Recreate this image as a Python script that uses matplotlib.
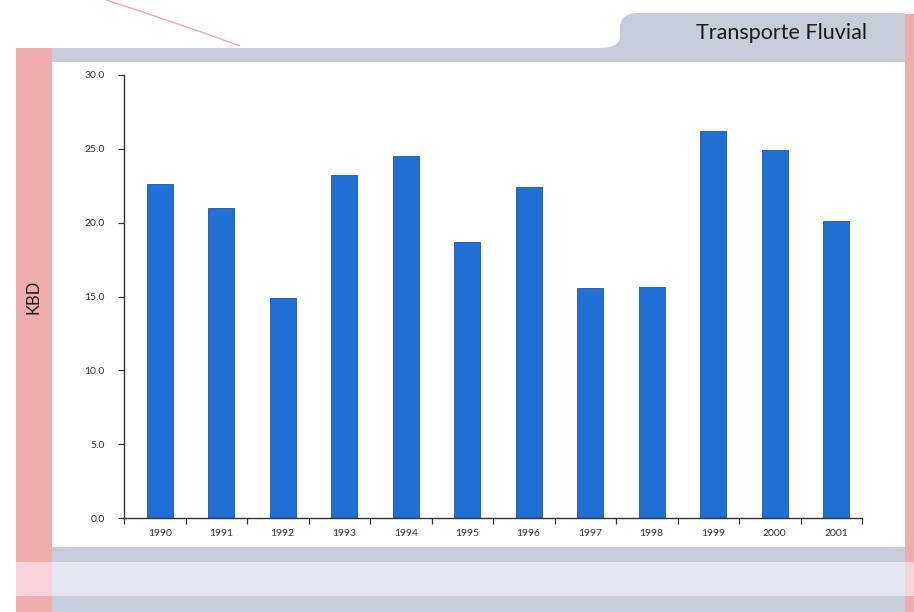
import matplotlib
matplotlib.use("Agg")
import matplotlib.pyplot as plt
from matplotlib.patches import Rectangle, PathPatch
from matplotlib.path import Path
from matplotlib.ticker import FormatStrFormatter, FixedLocator
import numpy as np

years = ["1990", "1991", "1992", "1993", "1994", "1995",
         "1996", "1997", "1998", "1999", "2000", "2001"]
kbd = [22.6, 21.0, 14.9, 23.2, 24.5, 18.7, 22.4, 15.6, 15.65, 26.2, 24.9, 20.1]
yticks = [0.0, 5.0, 10.0, 15.0, 20.0, 25.0, 30.0]
title = "Transporte Fluvial"
ylabel = "KBD"

W, H = 914, 612
plt.rcParams['font.family'] = ['Lato', 'DejaVu Sans']
fig = plt.figure(figsize=(W / 100, H / 100), dpi=100)
fig.patch.set_facecolor("white")

def P(x, y):
    return (x / W, 1 - y / H)

def rect(x0, y0, x1, y1, color, z=0):
    fig.patches.append(Rectangle(P(x0, y1), (x1 - x0) / W, (y1 - y0) / H,
                                 transform=fig.transFigure, facecolor=color,
                                 edgecolor="none", zorder=z))

gray = "#c6ccd8"
pink = "#f1adad"
lpink = "#f8d3dc"
# header bar + tab
rect(52, 48, 905, 62, gray)
verts = [P(600, 48), P(618, 48), P(620, 38), P(620, 28), P(620, 13), P(638, 13),
         P(905, 13), P(905, 48), P(600, 48)]
codes = [Path.MOVETO, Path.CURVE3, Path.CURVE3, Path.LINETO, Path.CURVE3, Path.CURVE3,
         Path.LINETO, Path.LINETO, Path.CLOSEPOLY]
fig.patches.append(PathPatch(Path(verts, codes), transform=fig.transFigure,
                             facecolor=gray, edgecolor="none"))
# pink side strips
rect(16, 48, 52, 612, pink)
rect(16, 562, 52, 596, lpink, 1)
rect(905, 14, 914, 612, pink)
rect(905, 562, 914, 596, lpink, 1)
# bottom bands
rect(52, 547, 905, 562, gray)
rect(52, 562, 905, 596, "#e3e6f0")
rect(52, 596, 905, 612, "#c9cedb")
# decorative pink curve
cverts = [P(106, 0), P(175, 22), P(240, 46)]
fig.patches.append(PathPatch(Path(cverts, [Path.MOVETO, Path.CURVE3, Path.CURVE3]),
                             transform=fig.transFigure, facecolor="none",
                             edgecolor="#f2a6b4", lw=1.0))

fig.text(*P(867, 33), title, ha="right", va="center", fontsize=15.5, color="#1a1a1a")
fig.text(*P(33, 297), ylabel, ha="center", va="center", rotation=90,
         fontsize=12, color="#1a1a1a")

ax = fig.add_axes([124 / W, 1 - 518 / H, (862 - 124) / W, (518 - 75) / H])
ax.set_facecolor("none")
x = np.arange(len(years))
off = 0.08
ax.bar(x, kbd, width=0.42, color="#1f6fd4", edgecolor="#1a56a8", linewidth=0.6, zorder=2)
ax.set_xlim(-0.5 - off, len(years) - 0.5 - off)
ax.set_ylim(0, 30)
ax.set_yticks(yticks)
ax.yaxis.set_major_formatter(FormatStrFormatter("%.1f"))
ax.set_xticks(x)
ax.set_xticklabels(years)
ax.xaxis.set_minor_locator(FixedLocator(np.arange(len(years) + 1) - 0.5 - off))
ax.tick_params(axis="x", which="major", length=0, pad=8, labelsize=7.5, labelcolor="#333333")
ax.tick_params(axis="x", which="minor", length=4, width=0.9, color="#333333", direction="out")
ax.tick_params(axis="y", length=4, width=0.9, color="#333333", pad=10, labelsize=7.5,
               labelcolor="#333333")
for s in ["top", "right"]:
    ax.spines[s].set_visible(False)
for s in ["left", "bottom"]:
    ax.spines[s].set_color("#333333")
    ax.spines[s].set_linewidth(1.0)

fig.savefig("out.png", dpi=100, facecolor="white")
